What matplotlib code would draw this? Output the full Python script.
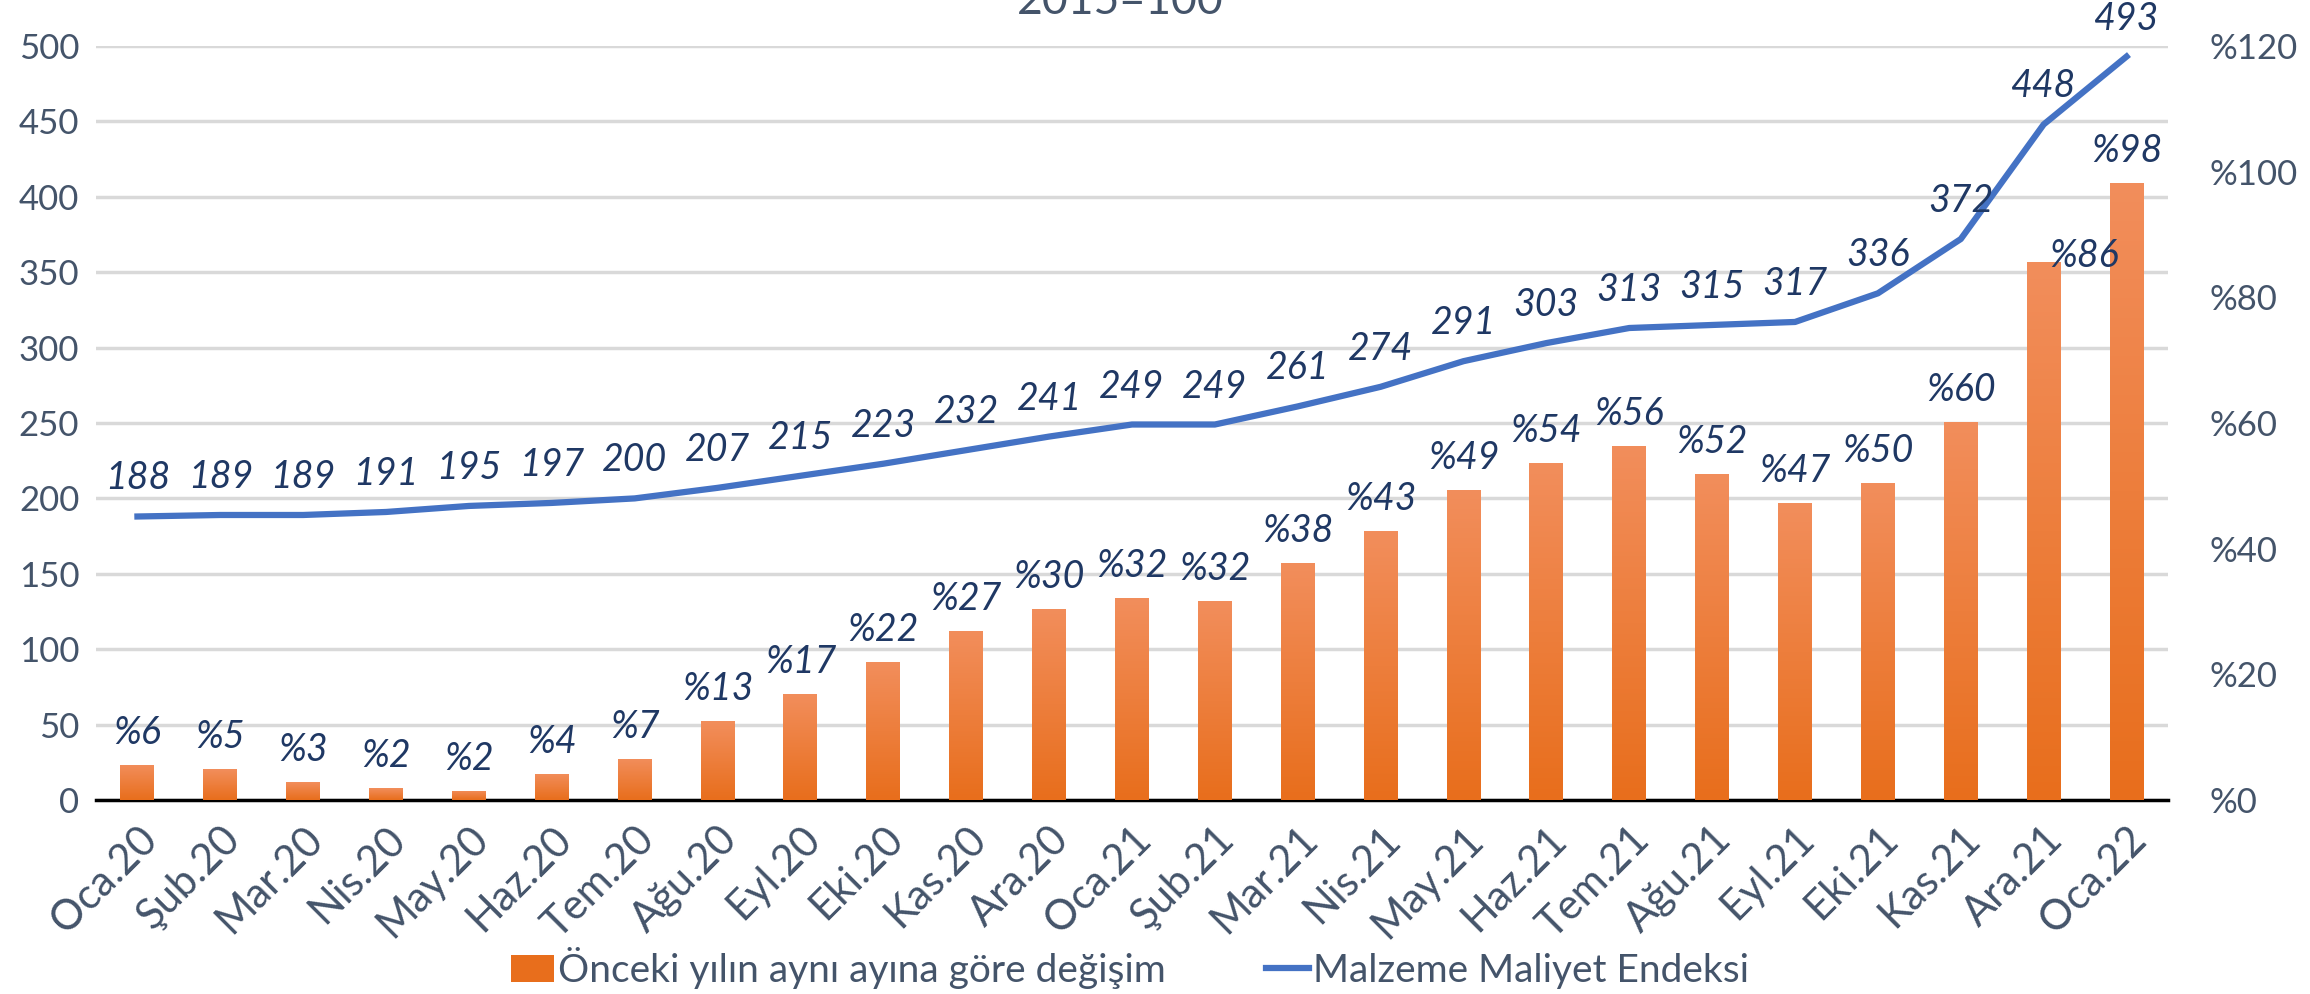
import matplotlib
matplotlib.use("Agg")
import matplotlib.pyplot as plt
import numpy as np
from matplotlib.colors import LinearSegmentedColormap
from matplotlib.lines import Line2D
from matplotlib.patches import Patch

months = ["Oca.20", "Şub.20", "Mar.20", "Nis.20", "May.20", "Haz.20", "Tem.20",
          "Ağu.20", "Eyl.20", "Eki.20", "Kas.20", "Ara.20", "Oca.21", "Şub.21",
          "Mar.21", "Nis.21", "May.21", "Haz.21", "Tem.21", "Ağu.21", "Eyl.21",
          "Eki.21", "Kas.21", "Ara.21", "Oca.22"]
index_values = [188, 189, 189, 191, 195, 197, 200, 207, 215, 223, 232, 241, 249,
                249, 261, 274, 291, 303, 313, 315, 317, 336, 372, 448, 493]
yoy_change = [5.6, 4.9, 2.8, 1.9, 1.5, 4.2, 6.6, 12.5, 16.9, 21.9, 26.9, 30.4, 32.1,
              31.6, 37.7, 42.8, 49.4, 53.6, 56.4, 51.9, 47.2, 50.4, 60.2, 85.7, 98.2]
yoy_labels = [6, 5, 3, 2, 2, 4, 7, 13, 17, 22, 27, 30, 32, 32, 38, 43, 49, 54, 56,
              52, 47, 50, 60, 86, 98]
left_ticks = [0, 50, 100, 150, 200, 250, 300, 350, 400, 450, 500]
right_ticks = [0, 20, 40, 60, 80, 100, 120]
title = "2015=100"
bar_name = "Önceki yılın aynı ayına göre değişim"
line_name = "Malzeme Maliyet Endeksi"

FONT = ["Lato", "DejaVu Sans"]
plt.rcParams["font.family"] = FONT
TICK_C = "#44546A"
LABEL_C = "#1F3864"
LINE_C = "#4472C4"
BAR_TOP = "#F28E5C"
BAR_BOT = "#E86E1C"

fig = plt.figure(figsize=(23.1, 9.94), dpi=100)
ax = fig.add_axes([96 / 2310, 1 - 800 / 994, (2168 - 96) / 2310, (800 - 46) / 994])
ax2 = ax.twinx()

x = np.arange(len(months))
ax.set_xlim(-0.5, len(months) - 0.5)
ax.set_ylim(0, 500)
ax2.set_ylim(0, 120)

# bars on secondary axis with vertical gradient
cmap = LinearSegmentedColormap.from_list("g", [BAR_BOT, BAR_TOP])
grad = np.linspace(0, 1, 256).reshape(-1, 1)
bars = ax2.bar(x, yoy_change, width=0.41, color=BAR_BOT, zorder=2)
for b in bars:
    x0 = b.get_x()
    w, h = b.get_width(), b.get_height()
    im = ax2.imshow(grad, cmap=cmap, origin="lower", aspect="auto",
                    extent=(x0, x0 + w, 0, h), zorder=2.1)
    im.set_clip_path(b)
ax2.set_xlim(-0.5, len(months) - 0.5)
ax2.set_ylim(0, 120)

line_y = np.array(index_values) * 120 / 500
ax2.plot(x, line_y, color=LINE_C, lw=4.5, solid_joinstyle="round", zorder=3)

for xi, v, lab in zip(x, yoy_change, yoy_labels):
    dx, dy = 0, 32
    if lab == 86:
        dx, dy = 40, 6
    ax2.annotate(f"%{lab}", (xi, v), xytext=(dx, dy), textcoords="offset pixels",
                 ha="center", va="center", fontsize=27, style="italic",
                 color=LABEL_C, zorder=4)
for xi, v in zip(x, line_y):
    ax2.annotate(f"{index_values[int(xi)]}", (xi, v), xytext=(0, 38),
                 textcoords="offset pixels", ha="center", va="center",
                 fontsize=27, style="italic", color=LABEL_C, zorder=4)

ax.set_yticks(left_ticks)
ax.set_yticklabels([str(t) for t in left_ticks])
ax2.set_yticks(right_ticks)
ax2.set_yticklabels([f"%{t}" for t in right_ticks])
ax.grid(axis="y", color="#D9D9D9", lw=2.5)
ax.set_axisbelow(True)
for a in (ax, ax2):
    for s in a.spines.values():
        s.set_visible(False)
    a.tick_params(length=0, labelsize=25, labelcolor=TICK_C)
ax.spines["bottom"].set_visible(True)
ax.spines["bottom"].set_color("#000000")
ax.spines["bottom"].set_linewidth(2.5)
ax.tick_params(axis="y", pad=12)
ax2.tick_params(axis="y", pad=30)
ax.set_xticks(x)
ax.set_xticklabels(months, rotation=45, ha="right", rotation_mode="anchor",
                   fontsize=30, color=TICK_C)
ax.tick_params(axis="x", pad=14)

fig.text(1120 / 2310, 1 - 14 / 994, title, ha="center", va="baseline",
         fontsize=32, color=TICK_C)

handles = [Patch(facecolor=BAR_BOT, edgecolor="none"),
           Line2D([0], [0], color=LINE_C, lw=4.5)]
fig.legend(handles, [bar_name, line_name], loc="center",
           bbox_to_anchor=(1130 / 2310, 1 - 968 / 994), ncol=2, frameon=False,
           fontsize=28, labelcolor=TICK_C, handlelength=1.1, handletextpad=0.1,
           columnspacing=2.6)

fig.savefig("out.png", dpi=100)
